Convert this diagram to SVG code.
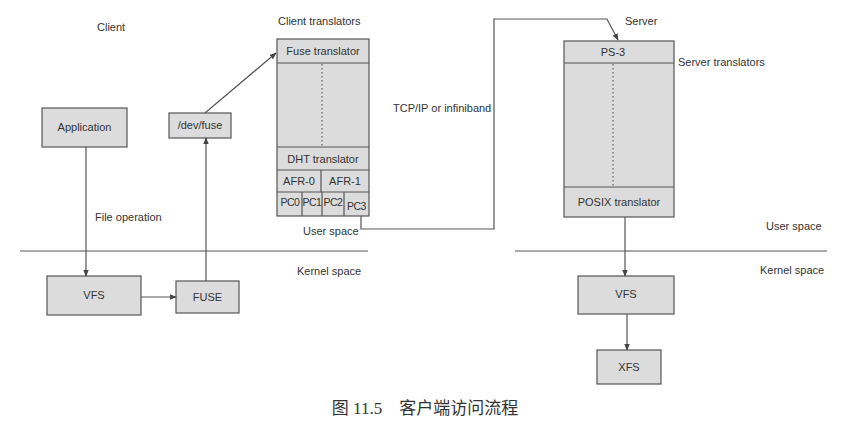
<svg xmlns="http://www.w3.org/2000/svg" width="852" height="423" viewBox="0 0 852 423">
<defs>
<marker id="arr" viewBox="0 0 10 10" refX="9" refY="5" markerWidth="7" markerHeight="7" orient="auto-start-reverse" markerUnits="userSpaceOnUse">
<path d="M0,1 L10,5 L0,9 z" fill="#444"/>
</marker>
<style>
.box{fill:#dcdcdc;stroke:#555;stroke-width:1.2}
.t{font-family:"Liberation Sans",Arial,sans-serif;font-size:11px;fill:#333}
.c{text-anchor:middle}
.ln{stroke:#555;stroke-width:1.2;fill:none}
.dot{stroke:#666;stroke-width:1.3;stroke-dasharray:1.5 2.5;fill:none}
.ar{stroke:#555;stroke-width:1.2;fill:none;marker-end:url(#arr)}
</style>
</defs>
<rect width="852" height="423" fill="#fff"/>

<g id="labels">
<text class="t" x="97" y="31">Client</text>
<text class="t" x="278" y="25">Client translators</text>
<text class="t" x="625" y="25">Server</text>
<text class="t" x="678" y="66">Server translators</text>
<text class="t" x="393" y="112">TCP/IP or infiniband</text>
<text class="t" x="95" y="221">File operation</text>
<text class="t" x="303" y="235">User space</text>
<text class="t" x="297" y="275">Kernel space</text>
<text class="t" x="766" y="230">User space</text>
<text class="t" x="760" y="274">Kernel space</text>
<text x="425" y="414" text-anchor="middle" style="font-family:'Liberation Serif','Noto Sans CJK SC',serif;font-size:17px;fill:#333">图 11.5　客户端访问流程</text>
</g>

<g id="space-divider">
<line class="ln" x1="20" y1="251" x2="368" y2="251"/>
<line class="ln" x1="515" y1="251" x2="827" y2="251"/>
</g>

<g id="application">
<rect class="box" x="42" y="108" width="85" height="39"/>
<text class="t c" x="84.5" y="131">Application</text>
</g>
<g id="devfuse">
<rect class="box" x="169" y="113" width="62" height="25"/>
<text class="t c" x="200" y="129">/dev/fuse</text>
</g>
<g id="vfs-client">
<rect class="box" x="47" y="276" width="94" height="39"/>
<text class="t c" x="94" y="299">VFS</text>
</g>
<g id="fuse">
<rect class="box" x="176" y="281" width="63" height="32"/>
<text class="t c" x="207.5" y="301">FUSE</text>
</g>

<g id="client-translators">
<rect class="box" x="277" y="39" width="92" height="177"/>
<line class="ln" x1="277" y1="63" x2="369" y2="63"/>
<line class="ln" x1="277" y1="147" x2="369" y2="147"/>
<line class="ln" x1="277" y1="170" x2="369" y2="170"/>
<line class="ln" x1="277" y1="192" x2="369" y2="192"/>
<line class="ln" x1="321" y1="170" x2="321" y2="192"/>
<line class="ln" x1="302" y1="192" x2="302" y2="216"/>
<line class="ln" x1="322" y1="192" x2="322" y2="216"/>
<line class="ln" x1="344" y1="192" x2="344" y2="216"/>
<line class="dot" x1="322" y1="64" x2="322" y2="146"/>
<text class="t c" x="323" y="55">Fuse translator</text>
<text class="t c" x="323" y="163">DHT translator</text>
<text class="t c" x="299" y="185">AFR-0</text>
<text class="t c" x="345" y="185">AFR-1</text>
<text class="t c" x="290" y="206" style="font-size:10.5px;letter-spacing:-0.5px">PC0</text>
<text class="t c" x="312" y="206" style="font-size:10.5px;letter-spacing:-0.5px">PC1</text>
<text class="t c" x="333" y="206" style="font-size:10.5px;letter-spacing:-0.5px">PC2</text>
<text class="t c" x="356.5" y="210" style="font-size:10.5px;letter-spacing:-0.5px">PC3</text>
</g>

<g id="server-translators">
<rect class="box" x="564" y="41" width="110" height="176"/>
<line class="ln" x1="564" y1="63" x2="674" y2="63"/>
<line class="ln" x1="564" y1="187" x2="674" y2="187"/>
<line class="dot" x1="613" y1="64" x2="613" y2="186"/>
<text class="t c" x="613" y="56">PS-3</text>
<text class="t c" x="619" y="206">POSIX translator</text>
</g>

<g id="vfs-server">
<rect class="box" x="578" y="276" width="96" height="38"/>
<text class="t c" x="626" y="298">VFS</text>
</g>
<g id="xfs">
<rect class="box" x="597" y="350" width="64" height="34"/>
<text class="t c" x="629" y="371">XFS</text>
</g>

<g id="connectors">
<line class="ar" x1="86" y1="147" x2="86" y2="276"/>
<line class="ar" x1="141" y1="297" x2="176" y2="297"/>
<line class="ar" x1="206" y1="281" x2="206" y2="138"/>
<line class="ar" x1="205" y1="113" x2="276" y2="53"/>
<polyline class="ar" points="361,216 361,229 494,229 494,19 607,19 618,40"/>
<line class="ar" x1="625" y1="217" x2="625" y2="276"/>
<line class="ar" x1="627" y1="314" x2="627" y2="350"/>
</g>
</svg>
